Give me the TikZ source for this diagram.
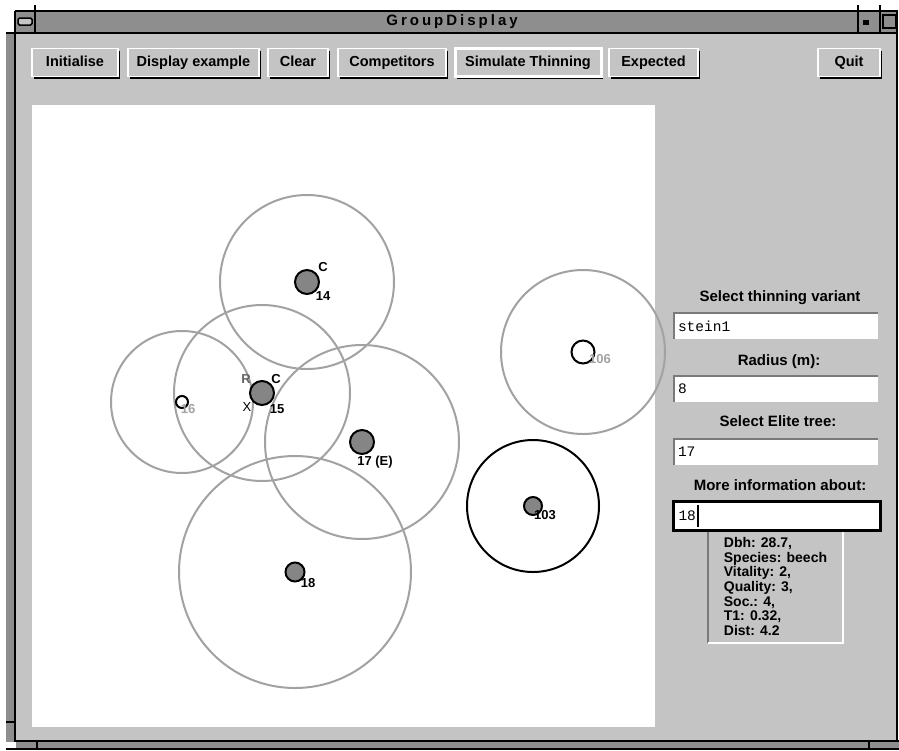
\documentclass[tikz,border=0pt]{standalone}
\usepackage{fontspec}
\setmainfont{Liberation Sans}
\newfontfamily\fieldfont{Liberation Mono}
\usetikzlibrary{shadows}

\definecolor{wingray}{HTML}{C4C4C4}
\definecolor{bargray}{HTML}{8E8E8E}
\definecolor{ringgray}{HTML}{A2A2A2}
\definecolor{treegray}{HTML}{858585}
\definecolor{insetgray}{HTML}{7A7A7A}

\tikzstyle{button}=[draw=white, line width=1.5pt, fill=wingray, minimum height=28pt, inner sep=0pt, text height=10.5pt, text depth=3pt, font=\bfseries\fontsize{14.5}{15}\selectfont, drop shadow={shadow xshift=2.2pt, shadow yshift=-2.2pt, fill=black, opacity=1}]
\tikzstyle{defbutton}=[button, line width=3pt]
\tikzstyle{ring}=[draw=ringgray, line width=2pt]
\tikzstyle{elitering}=[draw=black, line width=2pt]
\tikzstyle{tree}=[circle, draw=black, line width=2pt, fill=treegray, minimum size=24pt, inner sep=0pt]
\tikzstyle{gaptree}=[tree, fill=white]
\tikzstyle{tlbl}=[inner sep=0pt, font=\bfseries\fontsize{13}{13}\selectfont]
\tikzstyle{plbl}=[inner sep=0pt, text height=10.5pt, text depth=3pt, font=\bfseries\fontsize{15}{15}\selectfont]
\tikzstyle{field}=[fill=white, minimum width=204pt, minimum height=26pt, inner sep=0pt, text width=196pt, align=left, font=\fieldfont\fontsize{14.5}{14.5}\selectfont]
\tikzstyle{infobox}=[fill=wingray, minimum width=135pt, minimum height=113pt, inner sep=0pt, align=left, font=\bfseries\fontsize{14}{14.6}\selectfont]

\begin{document}
\begin{tikzpicture}[x=1pt,y=-1pt]
        \useasboundingbox (0,0) rectangle (899,750);
        \fill[white] (0,0) rectangle (899,750);
        % window frame
        \fill[bargray] (6,33) rectangle (16,742);
        \fill[bargray] (16,741) rectangle (899,749);
        \fill[wingray] (16,33) rectangle (897,741);
        \fill[bargray] (16,11) rectangle (897,33);
        \draw[line width=2pt] (15,11) -- (897,11) -- (897,741);
        \draw[line width=2pt] (6,33) -- (897,33);
        \draw[line width=2pt] (15,11) -- (15,741) -- (899,741);
        \draw[line width=2pt] (6,749) -- (899,749);
        \draw[line width=2pt] (35,5) -- (35,33);
        \draw[line width=2pt] (858,5) -- (858,33);
        \draw[line width=2pt] (880,5) -- (880,33);
        \draw[line width=2pt] (37,741) -- (37,750);
        \draw[line width=2pt] (869,741) -- (869,750);
        \draw[line width=1.5pt] (6,722) -- (15,722);
        \draw[line width=1.5pt, fill=wingray, rounded corners=1.5pt] (18,18) rectangle (32,25);
        \fill (863,20) rectangle (869,25);
        \draw[line width=1.5pt] (883,15) rectangle (896,28);
        \draw (452,22) node[font=\bfseries\fontsize{15}{15}\selectfont\addfontfeature{LetterSpace=20}] (title) {GroupDisplay};
        %
        \draw (75,62.5) node[button, minimum width=86pt] (initialise) {Initialise};
        \draw (193.5,62.5) node[button, minimum width=131pt] (example) {Display example};
        \draw (298,62.5) node[button, minimum width=60pt] (clear) {Clear};
        \draw (392,62.5) node[button, minimum width=108pt] (competitors) {Competitors};
        \draw (528,62.5) node[defbutton, minimum width=146pt] (simulate) {Simulate Thinning};
        \draw (653.5,62.5) node[button, minimum width=89pt] (expected) {Expected};
        \draw (849,62.5) node[button, minimum width=62pt] (quit) {Quit};
        %
        \fill[white] (32,105) rectangle (655,727);
        \coordinate (p14) at (307,282);
        \coordinate (p15) at (262,393);
        \coordinate (p16) at (182,402);
        \coordinate (p17) at (362,442);
        \coordinate (p18) at (295,572);
        \coordinate (p103) at (533,506);
        \coordinate (p106) at (583,352);
        \foreach \p/\r in {p14/87, p15/88, p16/71, p17/97, p18/116, p106/82}
            \draw[ring] (\p) circle (\r pt);
        \draw[elitering] (p103) circle (66pt);
        %
        \draw (p14) node[tree] (t14) {};
        \draw (p15) node[tree] (t15) {};
        \draw (p16) node[gaptree, minimum size=12pt] (t16) {};
        \draw (p17) node[tree] (t17) {};
        \draw (p18) node[tree, minimum size=19pt] (t18) {};
        \draw (p103) node[tree, minimum size=18pt] (t103) {};
        \draw (p106) node[gaptree, minimum size=23pt] (t106) {};
        %
        \draw (323,267) node[tlbl] (c14) {C};
        \draw (323,296) node[tlbl] (l14) {14};
        \draw (246,379) node[tlbl, text=black!60] (r15) {R};
        \draw (276,379) node[tlbl] (c15) {C};
        \draw (247,407) node[inner sep=0pt, font=\fontsize{13}{13}\selectfont] (x15) {X};
        \draw (277,409) node[tlbl] (l15) {15};
        \draw (188,409) node[tlbl, text=ringgray] (l16) {16};
        \draw (375,462) node[tlbl] (l17) {17 (E)};
        \draw (308,583) node[tlbl] (l18) {18};
        \draw (545,515) node[tlbl] (l103) {103};
        \draw (600,359) node[tlbl, text=ringgray] (l106) {106};
        %
        \draw (780,298) node[plbl] (lvariant) {Select thinning variant};
        \draw (776,326) node[field] (fvariant) {stein1};
        \draw (779,362) node[plbl] (lradius) {Radius (m):};
        \draw (776,389) node[field] (fradius) {8};
        \draw (778,423) node[plbl] (lelite) {Select Elite tree:};
        \draw (776,452) node[field] (felite) {17};
        \draw (780,487) node[plbl] (lmore) {More information about:};
        \foreach \f in {fvariant, fradius, felite}
            \draw[insetgray, line width=2.5pt] (\f.south west) -- (\f.north west) -- (\f.north east);
        \draw (775.5,586.5) node[infobox] (info) {Dbh: 28.7,\\Species: beech\\Vitality: 2,\\Quality: 3,\\Soc.: 4,\\T1: 0.32,\\Dist: 4.2};
        \draw[insetgray, line width=2pt] (info.south west) -- (info.north west);
        \draw[white, line width=2pt] (info.north east) -- (info.south east) -- (info.south west);
        \draw (776.5,515.5) node[field, draw=black, line width=3pt, minimum width=207pt, minimum height=29pt] (fmore) {18};
        \draw[line width=1.5pt] (698,505) -- (698,527);
\end{tikzpicture}
\end{document}
